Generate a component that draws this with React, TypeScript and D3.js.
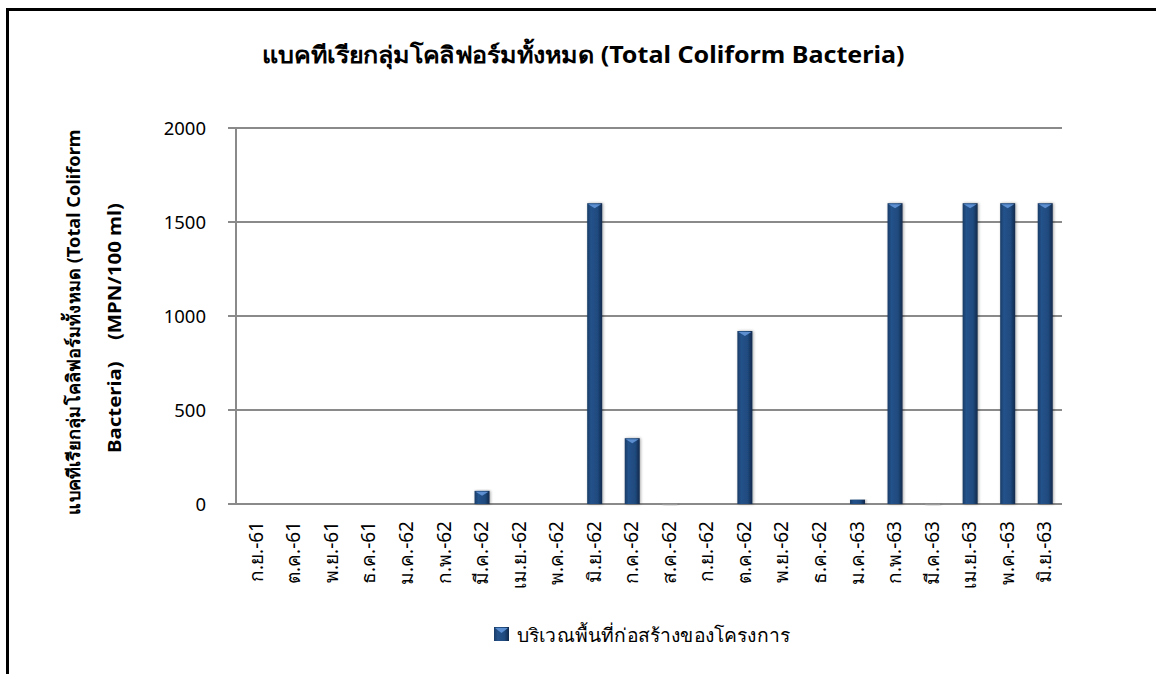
import React from "react";
import * as d3 from "d3";

const categories = [
  "ก.ย.-61", "ต.ค.-61", "พ.ย.-61", "ธ.ค.-61", "ม.ค.-62", "ก.พ.-62", "มี.ค.-62",
  "เม.ย.-62", "พ.ค.-62", "มิ.ย.-62", "ก.ค.-62", "ส.ค.-62", "ก.ย.-62", "ต.ค.-62",
  "พ.ย.-62", "ธ.ค.-62", "ม.ค.-63", "ก.พ.-63", "มี.ค.-63", "เม.ย.-63", "พ.ค.-63", "มิ.ย.-63",
];
const values = [0, 0, 0, 0, 0, 0, 70, 0, 0, 1600, 350, 2, 0, 920, 0, 0, 23, 1600, 2, 1600, 1600, 1600];
const yTicks = [0, 500, 1000, 1500, 2000];
const seriesName = "บริเวณพื้นที่ก่อสร้างของโครงการ";
const title = "แบคทีเรียกลุ่มโคลิฟอร์มทั้งหมด (Total Coliform Bacteria)";

const font = "Tahoma, 'Noto Sans', 'DejaVu Sans', sans-serif";

export default function App() {
  const W = 1156, H = 674;
  const x = d3.scaleBand().domain(categories).range([238, 1064]);
  const y = d3.scaleLinear().domain([0, 2000]).range([504, 128]);
  const bw = 15;

  return (
    <svg width={W} height={H} style={{ position: "absolute", left: 0, top: 0 }}>
      <defs>
        <linearGradient id="barG" x1="0" x2="1" y1="0" y2="0">
          <stop offset="0" stopColor="#1a3c66" />
          <stop offset="0.25" stopColor="#24528a" />
          <stop offset="0.7" stopColor="#1f4a7e" />
          <stop offset="1" stopColor="#10284a" />
        </linearGradient>
        <filter id="sh" x="-50%" y="-10%" width="200%" height="120%">
          <feGaussianBlur in="SourceAlpha" stdDeviation="1.5" />
          <feOffset dx="1" dy="0" />
          <feComponentTransfer><feFuncA type="linear" slope="0.35" /></feComponentTransfer>
          <feMerge><feMergeNode /><feMergeNode in="SourceGraphic" /></feMerge>
        </filter>
      </defs>
      <rect x={0} y={0} width={W} height={H} fill="#fff" />
      <line x1={7.5} x2={7.5} y1={8} y2={H} stroke="#000" strokeWidth={3} />
      <line x1={6} x2={W} y1={9.5} y2={9.5} stroke="#000" strokeWidth={3} />

      <text x={583} y={63} textAnchor="middle" fontFamily={font} fontWeight="bold" fontSize={23}
        textLength={643} lengthAdjust="spacingAndGlyphs">{title}</text>

      {yTicks.map(t => (
        <g key={t}>
          <line x1={228} x2={1062} y1={y(t)} y2={y(t)} stroke="#8a8a8a" strokeWidth={2} />
          <text x={206} y={y(t) + 7} textAnchor="end" fontFamily={font} fontSize={18.5}>{t}</text>
        </g>
      ))}
      <line x1={236} x2={236} y1={128} y2={504} stroke="#8a8a8a" strokeWidth={2} />

      <g transform="translate(80,322) rotate(-90)">
        <text x={0} y={0} textAnchor="middle" fontFamily={font} fontWeight="bold" fontSize={18}
          textLength={385} lengthAdjust="spacingAndGlyphs">
          แบคทีเรียกลุ่มโคลิฟอร์มทั้งหมด (Total Coliform
        </text>
        <text x={-6} y={41} textAnchor="middle" fontFamily={font} fontWeight="bold" fontSize={18}
          textLength={250} lengthAdjust="spacingAndGlyphs" style={{ whiteSpace: "pre" }}>
          {"Bacteria)    (MPN/100 ml)"}
        </text>
      </g>

      {categories.map((c, i) => {
        const cx = (x(c) as number) + x.bandwidth() / 2;
        const v = values[i];
        const top = y(v);
        const h = y(0) - top;
        return (
          <g key={c}>
            {v > 0 && (
              <g filter="url(#sh)">
                <rect x={cx - bw / 2} y={top} width={bw} height={Math.max(h, 1.5)} fill={h < 3 ? "#9a9a9a" : "url(#barG)"} />
                {h >= 6 && (
                  <path d={`M${cx - bw / 2 + 1},${top + 1} L${cx + bw / 2 - 1},${top + 1} L${cx},${top + 5} Z`} fill="#5b8ed0" />
                )}
              </g>
            )}
            <text transform={`translate(${cx + 6},521) rotate(-90)`} textAnchor="end" fontFamily={font} fontSize={19}>{c}</text>
          </g>
        );
      })}

      <rect x={494} y={627} width={15} height={14} fill="url(#barG)" />
      <path d="M495,628 L508,628 L501.5,633 Z" fill="#5b8ed0" />
      <text x={517} y={642} fontFamily={font} fontSize={19} textLength={273} lengthAdjust="spacingAndGlyphs">{seriesName}</text>
    </svg>
  );
}
